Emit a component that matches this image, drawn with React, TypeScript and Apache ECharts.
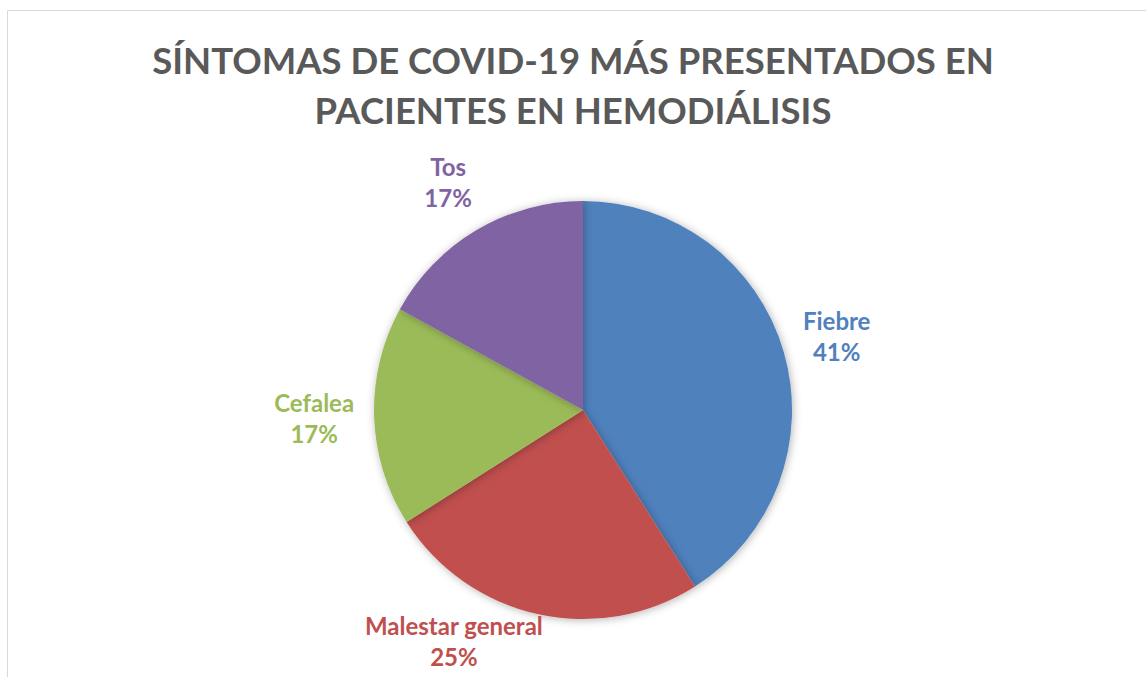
import React, { useEffect, useRef } from "react";
import * as echarts from "echarts";

const titleLines = ["SÍNTOMAS DE COVID-19 MÁS PRESENTADOS EN", "PACIENTES EN HEMODIÁLISIS"];
const categories = ["Fiebre", "Malestar general", "Cefalea", "Tos"];
const values = [41, 25, 17, 17];
const colors = ["#4F81BD", "#C0504D", "#9BBB59", "#8064A2"];

const W = 1146;
const H = 677;
const CX = 583;
const CY = 410;
const R = 209;
const GAP = 20;
const FONT = "Lato, 'Open Sans', sans-serif";

function midAngle(i: number): number {
  const total = values.reduce((a, b) => a + b, 0);
  let cum = 0;
  for (let k = 0; k < i; k++) cum += values[k];
  return ((cum + values[i] / 2) / total) * 2 * Math.PI;
}

function place(theta: number, w: number, h: number) {
  const ux = Math.sin(theta);
  const uy = -Math.cos(theta);
  const tx = Math.abs(ux) > 1e-6 ? w / Math.abs(ux) : Infinity;
  const ty = Math.abs(uy) > 1e-6 ? h / Math.abs(uy) : Infinity;
  const t = Math.min(tx, ty);
  const d = R + GAP + t;
  return { x: CX + ux * d, y: CY + uy * d };
}

export default function App() {
  const ref = useRef<HTMLDivElement>(null);
  useEffect(() => {
    document.body.style.margin = "0";
    const chart = echarts.init(ref.current!, undefined, { renderer: "svg" });
    chart.setOption({
      animation: false,
      backgroundColor: "#ffffff",
      title: {
        text: titleLines.join("\n"),
        left: "center",
        top: 30,
        textStyle: {
          fontFamily: FONT,
          fontWeight: "bold",
          fontSize: 36.5,
          lineHeight: 50,
          color: "#595959",
        },
      },
      graphic: [
        {
          type: "rect",
          shape: { x: 7.5, y: 10.5, width: 1300, height: 800 },
          style: { fill: "none", stroke: "#D9D9D9", lineWidth: 1 },
          silent: true,
        },
      ],
      series: [
        {
          type: "pie",
          center: [CX, CY],
          radius: R,
          startAngle: 90,
          clockwise: true,
          avoidLabelOverlap: false,
          itemStyle: {
            borderWidth: 0,
            shadowBlur: 8,
            shadowColor: "rgba(0,0,0,0.3)",
            shadowOffsetX: 1,
            shadowOffsetY: 1,
          },
          label: {
            show: true,
            position: "outside",
            formatter: (p: any) => `${p.name}\n${p.value}%`,
            fontFamily: FONT,
            fontWeight: "bold",
            fontSize: 24,
            lineHeight: 31,
            color: "inherit",
          },
          labelLine: { show: false },
          labelLayout: (params: any) => {
            const i = params.dataIndex;
            const w = params.labelRect.width / 2;
            const h = params.labelRect.height / 2;
            let theta = midAngle(i);
            let pos = place(theta, w, h);
            let guard = 0;
            while (pos.y + h > H - 5 && guard < 400) {
              theta += theta > Math.PI ? 0.005 : -0.005;
              pos = place(theta, w, h);
              guard++;
            }
            return { x: pos.x, y: pos.y, align: "center", verticalAlign: "middle" };
          },
          data: categories.map((c, i) => ({
            name: c,
            value: values[i],
            itemStyle: { color: colors[i] },
            label: { color: colors[i] },
          })),
        },
      ],
    });
    return () => chart.dispose();
  }, []);
  return <div ref={ref} style={{ width: W, height: H, position: "absolute", left: 0, top: 0 }} />;
}
